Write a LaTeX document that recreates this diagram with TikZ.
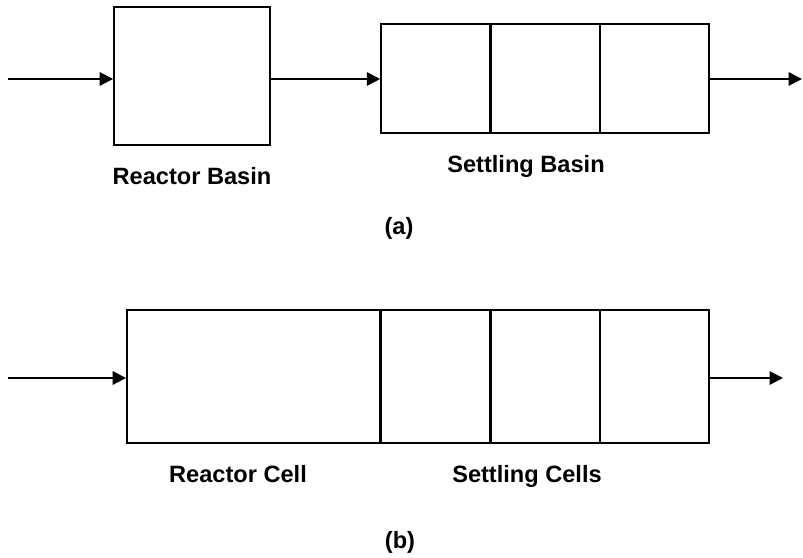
\documentclass[tikz,border=0pt]{standalone}
\usepackage{fontspec}
\setmainfont{Liberation Sans}
\usetikzlibrary{arrows.meta}
\begin{document}
\begin{tikzpicture}[x=0.75pt, y=-0.75pt, line width=1.4pt,
    every node/.style={font=\fontsize{17.7}{21}\selectfont\bfseries, inner sep=0pt},
    flow/.style={-{Triangle[length=10pt,width=10pt]}}]
    \useasboundingbox (0,0) rectangle (803,557);
    % reactor volumes
    \node[draw, minimum width=117pt, minimum height=103.5pt] (rA) at (192,76) {};
    \node[draw, minimum width=189.75pt, minimum height=99.75pt] (rB) at (253.5,376.5) {};
    % settling cells, one row per layout
    \foreach \r/\y/\h in {A/78.5/81.8pt, B/376.5/99.75pt} {
        \foreach \x [count=\i] in {436,545,654.5}
            \node[draw, minimum width=82.3pt, minimum height=\h] (s\r\i) at (\x,\y) {};
    }
    \coordinate (inA) at (8,79);
    \coordinate (outA) at (802,79);
    \coordinate (inB) at (8,378);
    \coordinate (outB) at (783,378);
    \draw[flow] (inA) -- (inA -| rA.west);
    \draw[flow] (inA -| rA.east) -- (inA -| sA1.west);
    \draw[flow] (outA -| sA3.east) -- (outA);
    \draw[flow] (inB) -- (inB -| rB.west);
    \draw[flow] (outB -| sB3.east) -- (outB);
    % labels
    \foreach \x/\y/\lab [count=\i] in {192/176.5/{Reactor Basin}, 526/166/{Settling Basin},
        399/228/{(a)}, 238/474/{Reactor Cell}, 527/476/{Settling Cells}, 400/542/{(b)}}
        \node (lab\i) at (\x,\y) {\lab};
\end{tikzpicture}
\end{document}
